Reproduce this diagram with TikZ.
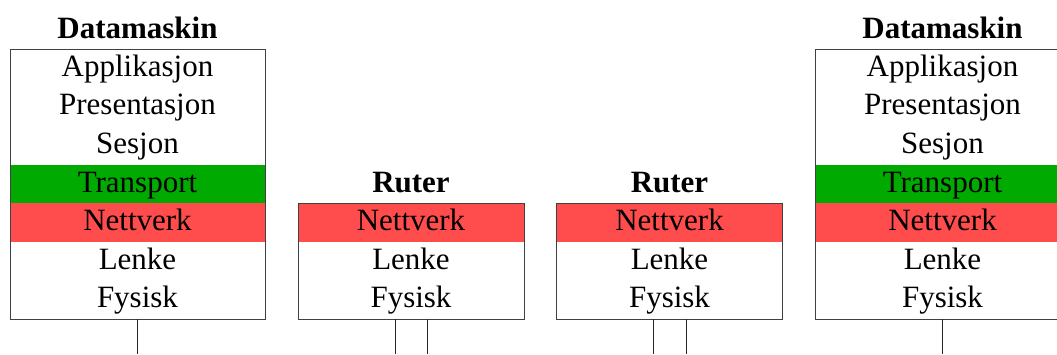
\documentclass[tikz,border=0pt]{standalone}
\usepackage{fontspec}
\setmainfont{Liberation Serif}
\usetikzlibrary{fit}
\definecolor{tgreen}{RGB}{0,170,0}
\definecolor{nred}{RGB}{255,76,76}
\tikzset{
  layer/.style={minimum height=38.57pt, inner sep=0pt, outer sep=0pt, text height=23pt, text depth=7pt, font=\fontsize{31}{37}\selectfont},
  hostlayer/.style={layer, minimum width=255pt},
  ruterlayer/.style={layer, minimum width=226pt},
  frame/.style={draw=black!75, line width=0.9pt, inner sep=0pt, outer sep=0pt},
  title/.style={font=\fontsize{31}{37}\selectfont\bfseries, anchor=base, inner sep=0pt},
  wire/.style={draw=black!85, line width=0.9pt}
}
\begin{document}
\begin{tikzpicture}[x=1pt,y=-1pt]
\useasboundingbox (0,0) rectangle (1057,354);
\clip (0,0) rectangle (1057,354);
\coordinate (bot) at (0,354);
% left host
\node[title] (tA) at (137.5,38) {Datamaskin};
\node[hostlayer] (a1) at (137.5,68.3) {Applikasjon};
\node[hostlayer] (a2) at (137.5,106.9) {Presentasjon};
\node[hostlayer] (a3) at (137.5,145.4) {Sesjon};
\node[hostlayer, fill=tgreen] (a4) at (137.5,184.0) {Transport};
\node[hostlayer, fill=nred] (a5) at (137.5,222.6) {Nettverk};
\node[hostlayer] (a6) at (137.5,261.1) {Lenke};
\node[hostlayer] (a7) at (137.5,299.7) {Fysisk};
\node[frame, fit=(a1)(a7)] (fA) {};
% router 1
\node[title] (tR1) at (411,192) {Ruter};
\node[ruterlayer, fill=nred] (r1a) at (411,222.6) {Nettverk};
\node[ruterlayer] (r1b) at (411,261.1) {Lenke};
\node[ruterlayer] (r1c) at (411,299.7) {Fysisk};
\node[frame, fit=(r1a)(r1c)] (fR1) {};
% router 2
\node[title] (tR2) at (669.5,192) {Ruter};
\node[ruterlayer, fill=nred] (r2a) at (669.5,222.6) {Nettverk};
\node[ruterlayer] (r2b) at (669.5,261.1) {Lenke};
\node[ruterlayer] (r2c) at (669.5,299.7) {Fysisk};
\node[frame, fit=(r2a)(r2c)] (fR2) {};
% right host
\node[title] (tB) at (942.5,38) {Datamaskin};
\node[hostlayer] (b1) at (942.5,68.3) {Applikasjon};
\node[hostlayer] (b2) at (942.5,106.9) {Presentasjon};
\node[hostlayer] (b3) at (942.5,145.4) {Sesjon};
\node[hostlayer, fill=tgreen] (b4) at (942.5,184.0) {Transport};
\node[hostlayer, fill=nred] (b5) at (942.5,222.6) {Nettverk};
\node[hostlayer] (b6) at (942.5,261.1) {Lenke};
\node[hostlayer] (b7) at (942.5,299.7) {Fysisk};
\node[frame, fit=(b1)(b7)] (fB) {};
% wires
\draw[wire] (fA.south) -- (fA.south |- bot);
\draw[wire] ([xshift=-16pt]fR1.south) -- ([xshift=-16pt]fR1.south |- bot);
\draw[wire] ([xshift=16pt]fR1.south) -- ([xshift=16pt]fR1.south |- bot);
\draw[wire] ([xshift=-16.5pt]fR2.south) -- ([xshift=-16.5pt]fR2.south |- bot);
\draw[wire] ([xshift=16.5pt]fR2.south) -- ([xshift=16.5pt]fR2.south |- bot);
\draw[wire] (fB.south) -- (fB.south |- bot);
\end{tikzpicture}
\end{document}
